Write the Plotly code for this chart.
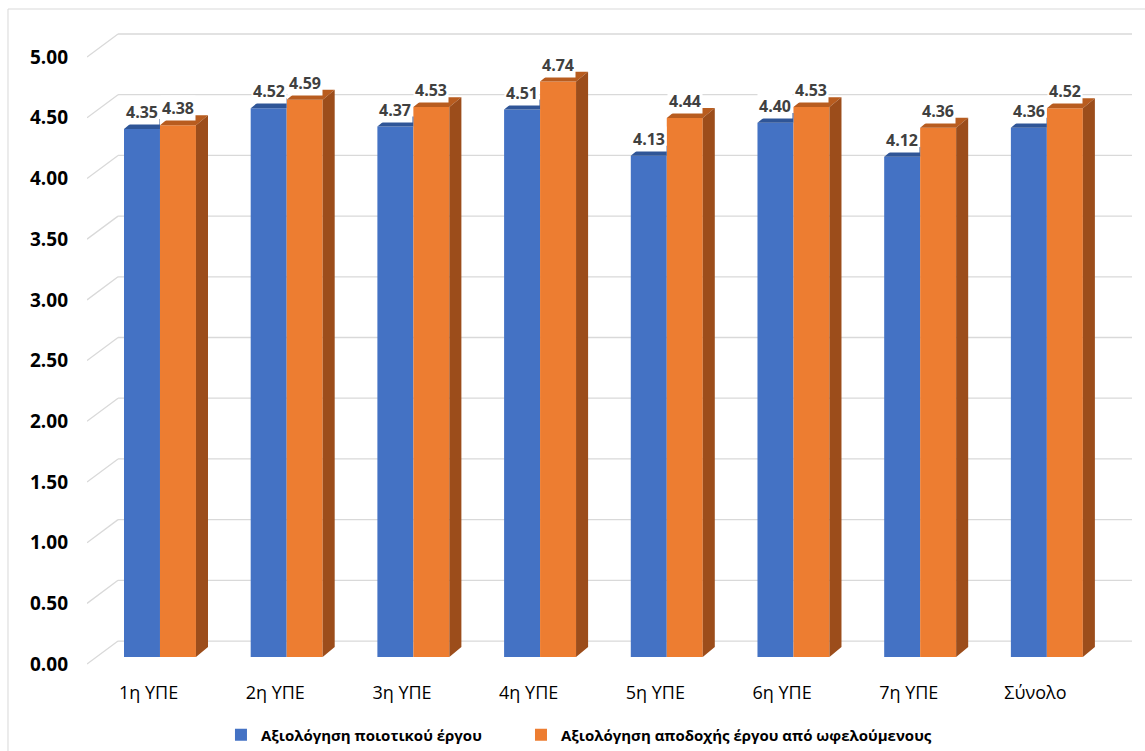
import plotly.graph_objects as go

# Categories and the two rating series
categories = ["1η ΥΠΕ", "2η ΥΠΕ", "3η ΥΠΕ", "4η ΥΠΕ", "5η ΥΠΕ", "6η ΥΠΕ", "7η ΥΠΕ", "Σύνολο"]
quality_scores = [4.35, 4.52, 4.37, 4.51, 4.13, 4.40, 4.12, 4.36]
acceptance_scores = [4.38, 4.59, 4.53, 4.74, 4.44, 4.53, 4.36, 4.52]
series_names = ["Αξιολόγηση ποιοτικού έργου", "Αξιολόγηση αποδοχής έργου από ωφελούμενους"]
y_ticks = [0.0, 0.5, 1.0, 1.5, 2.0, 2.5, 3.0, 3.5, 4.0, 4.5, 5.0]

# Styling / geometry constants
BLUE, ORANGE = "#4472C4", "#ED7D31"
BLUE_TOP = "#2F5597"
ORANGE_TOP, ORANGE_SIDE = "#B85C1F", "#9C4D1B"
GRID = "#D9D9D9"
FONT = "Open Sans"
BAR_W = 0.284          # width of each bar in category units
DX, DY = 0.095, 0.082  # depth offset of the 3-D look (x units, y units)
BACK_DY = 0.132        # back wall grid offset above the bar front plane
FRONT_DY = -0.058      # front end of the slanted grid segment
X_RANGE = [-0.576, 7.672]
Y_RANGE = [-0.189, 5.165]
WALL_X = -0.331

xs = list(range(len(categories)))

fig = go.Figure()

# Front faces
fig.add_trace(go.Bar(x=xs, y=quality_scores, width=BAR_W, offset=-BAR_W,
                     marker=dict(color=BLUE, line=dict(width=0)), name=series_names[0],
                     legend="legend"))
fig.add_trace(go.Bar(x=xs, y=acceptance_scores, width=BAR_W, offset=0,
                     marker=dict(color=ORANGE, line=dict(width=0)), name=series_names[1],
                     legend="legend2"))

# Top faces of blue bars (visible part left of the orange bar)
bx, by = [], []
for x, v in zip(xs, quality_scores):
    xl, xr = x - BAR_W, x
    bx += [xl, xl + DX, xr, xr, xl, None]
    by += [v, v + DY, v + DY, v, v, None]
fig.add_trace(go.Scatter(x=bx, y=by, fill="toself", fillcolor=BLUE_TOP, mode="lines",
                         line=dict(width=0), showlegend=False, hoverinfo="skip"))

# Top and side faces of orange bars
tx, ty, sx, sy = [], [], [], []
for x, v in zip(xs, acceptance_scores):
    xl, xr = x, x + BAR_W
    tx += [xl, xl + DX, xr + DX, xr, xl, None]
    ty += [v, v + DY, v + DY, v, v, None]
    sx += [xr, xr + DX, xr + DX, xr, xr, None]
    sy += [0, DY, v + DY, v, 0, None]
fig.add_trace(go.Scatter(x=tx, y=ty, fill="toself", fillcolor=ORANGE_TOP, mode="lines",
                         line=dict(width=0), showlegend=False, hoverinfo="skip"))
fig.add_trace(go.Scatter(x=sx, y=sy, fill="toself", fillcolor=ORANGE_SIDE, mode="lines",
                         line=dict(width=0), showlegend=False, hoverinfo="skip"))

# Back wall grid with slanted side-wall segments
shapes = []
for t in y_ticks:
    shapes.append(dict(type="line", xref="x", yref="y", x0=WALL_X, x1=X_RANGE[1],
                       y0=t + BACK_DY, y1=t + BACK_DY, line=dict(color=GRID, width=1.3),
                       layer="below"))
    shapes.append(dict(type="line", xref="x", yref="y", x0=X_RANGE[0], x1=WALL_X,
                       y0=t + FRONT_DY, y1=t + BACK_DY, line=dict(color=GRID, width=1.3),
                       layer="below"))
# Chart frame
shapes.append(dict(type="rect", xref="paper", yref="paper", x0=-0.0756, x1=1.2,
                   y0=-0.2, y1=1.0323, line=dict(color=GRID, width=1), layer="below"))

# Value labels
annotations = []
for x, v in zip(xs, quality_scores):
    annotations.append(dict(x=x - BAR_W / 2, y=v, text=f"{v:.2f}", showarrow=False,
                            yanchor="middle", yshift=17, bgcolor="white", borderpad=1,
                            font=dict(family=FONT, size=16, color="#404040", weight="bold")))
for x, v in zip(xs, acceptance_scores):
    annotations.append(dict(x=x + BAR_W / 2, y=v, text=f"{v:.2f}", showarrow=False,
                            yanchor="middle", yshift=17, bgcolor="white", borderpad=1,
                            font=dict(family=FONT, size=16, color="#404040", weight="bold")))

legend_font = dict(family=FONT, size=15, color="black", weight="bold")

fig.update_layout(
    width=1145, height=751, autosize=False,
    margin=dict(l=87, r=13, t=30, b=71, autoexpand=False),
    paper_bgcolor="white", plot_bgcolor="white",
    showlegend=True,
    legend=dict(orientation="h", x=0.1282, xanchor="left", y=-0.0846, yanchor="middle",
                font=legend_font),
    legend2=dict(orientation="h", x=0.4153, xanchor="left", y=-0.0846, yanchor="middle",
                 font=legend_font),
    shapes=shapes, annotations=annotations,
    xaxis=dict(range=X_RANGE, tickvals=[x - 0.09 for x in xs], ticktext=categories,
               showgrid=False, zeroline=False, showline=False, ticks="",
               tickfont=dict(family=FONT, size=18, color="black")),
    yaxis=dict(range=Y_RANGE, tickvals=[t + FRONT_DY for t in y_ticks],
               ticktext=[f"{t:.2f}" for t in y_ticks],
               showgrid=False, zeroline=False, showline=False, ticks="",
               ticklabelstandoff=18,
               tickfont=dict(family=FONT, size=19, color="black", weight="bold")),
)

fig.write_html("out.html")
